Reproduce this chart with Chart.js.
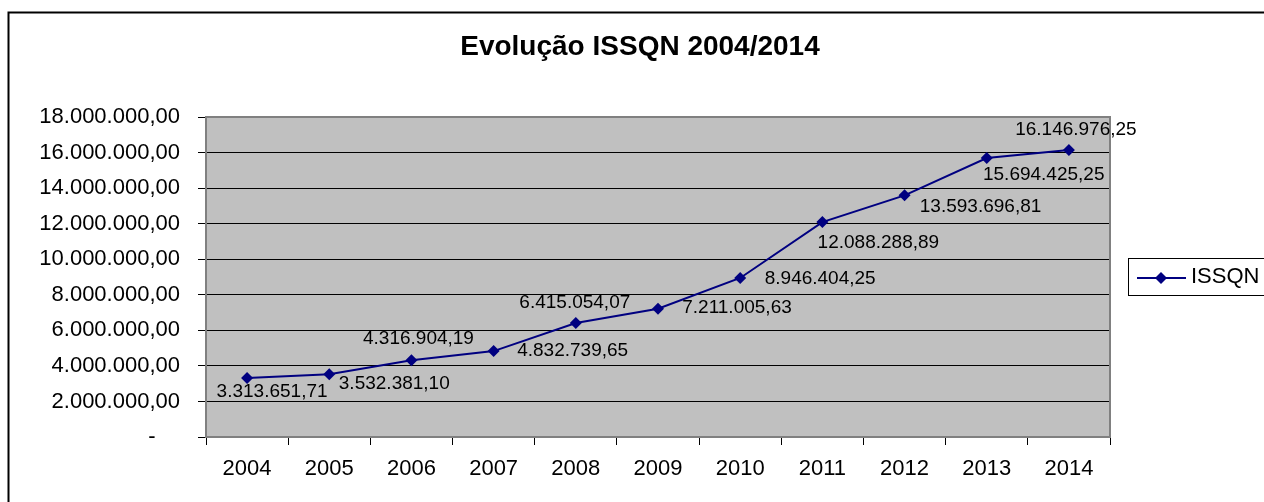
<!DOCTYPE html>
<html>
<head>
<meta charset="utf-8">
<script src="https://cdn.jsdelivr.net/npm/chart.js@4/dist/chart.umd.min.js"></script>
<style>
    body { margin: 0; background: #fff; }
    canvas { display: block; }
</style>
</head>
<body>
<canvas id="canvasIssqn" width="1264" height="502"></canvas>
<script>
const anos = ['2004', '2005', '2006', '2007', '2008', '2009', '2010', '2011', '2012', '2013', '2014']
const issqn = [3313651.71, 3532381.10, 4316904.19, 4832739.65, 6415054.07, 7211005.63,
    8946404.25, 12088288.89, 13593696.81, 15694425.25, 16146976.25]
const yTicks = [0, 2000000, 4000000, 6000000, 8000000, 10000000, 12000000, 14000000, 16000000, 18000000]
const titulo = 'Evolução ISSQN 2004/2014'

// where each value label sits relative to its point (dx, dy)
const labelDx = [25, 65, 7, 79, -1, 79, 80, 56, 76, 57, 7]
const labelDy = [14, 10, -21, 0, -20, -1, 1, 21, 11, 17, -20]

const fonte = '"Liberation Sans", Arial, sans-serif'

function formatBR(v) {
    if (v == 0) return '-    '
    let partes = v.toFixed(2).split('.')
    let inteiro = partes[0].replace(/\B(?=(\d{3})+(?!\d))/g, '.')
    return inteiro + ',' + partes[1]
}

const molduraPlugin = {
    id: 'moldura',
    beforeDraw(chart) {
        const ctx = chart.ctx
        const a = chart.chartArea
        ctx.save()
        ctx.fillStyle = '#fff'
        ctx.fillRect(0, 0, chart.width, chart.height)
        ctx.lineWidth = 2
        ctx.strokeStyle = '#000'
        ctx.strokeRect(8.5, 12.5, 1400, 700)
        ctx.fillStyle = '#C0C0C0'
        ctx.fillRect(a.left, a.top, a.right - a.left, a.bottom - a.top)
        // titulo
        ctx.fillStyle = '#000'
        ctx.font = 'bold 28px ' + fonte
        ctx.textAlign = 'center'
        ctx.textBaseline = 'middle'
        ctx.fillText(titulo, 640, 47)
        ctx.restore()
    },
    beforeDatasetsDraw(chart) {
        const ctx = chart.ctx
        const a = chart.chartArea
        ctx.save()
        ctx.lineWidth = 2
        ctx.strokeStyle = '#808080'
        ctx.strokeRect(a.left, a.top, a.right - a.left, a.bottom - a.top)
        ctx.restore()
    }
}

const rotulosPlugin = {
    id: 'rotulos',
    afterDatasetsDraw(chart) {
        const ctx = chart.ctx
        const meta = chart.getDatasetMeta(0)
        ctx.save()
        ctx.font = '19px ' + fonte
        ctx.fillStyle = '#000'
        ctx.textAlign = 'center'
        ctx.textBaseline = 'middle'
        meta.data.forEach((pt, i) => {
            ctx.fillText(formatBR(issqn[i]), pt.x + labelDx[i], pt.y + labelDy[i])
        })
        ctx.restore()
    }
}

const legendaPlugin = {
    id: 'legenda',
    afterDraw(chart) {
        const ctx = chart.ctx
        const ds = chart.data.datasets[0]
        ctx.save()
        ctx.lineWidth = 1
        ctx.strokeStyle = '#000'
        ctx.strokeRect(1128.5, 258.5, 200, 37)
        ctx.strokeStyle = ds.borderColor
        ctx.lineWidth = 2
        ctx.beginPath()
        ctx.moveTo(1137, 278)
        ctx.lineTo(1186, 278)
        ctx.stroke()
        ctx.fillStyle = ds.borderColor
        ctx.beginPath()
        ctx.moveTo(1161, 272)
        ctx.lineTo(1167, 278)
        ctx.lineTo(1161, 284)
        ctx.lineTo(1155, 278)
        ctx.closePath()
        ctx.fill()
        ctx.fillStyle = '#000'
        ctx.font = '22px ' + fonte
        ctx.textAlign = 'left'
        ctx.textBaseline = 'middle'
        ctx.fillText(ds.label, 1191, 277)
        ctx.restore()
    }
}

new Chart(document.getElementById('canvasIssqn').getContext('2d'), {
    type: 'line',
    data: {
        labels: anos,
        datasets: [{
            label: 'ISSQN',
            data: issqn,
            borderColor: '#000080',
            backgroundColor: '#000080',
            borderWidth: 2,
            pointStyle: 'rectRot',
            pointRadius: 6,
            pointBorderWidth: 0,
            tension: 0,
            fill: false
        }]
    },
    options: {
        responsive: false,
        animation: false,
        layout: { padding: { left: 10, right: 154, top: 117, bottom: 0 } },
        plugins: {
            legend: { display: false },
            tooltip: { enabled: false },
            title: { display: false }
        },
        scales: {
            x: {
                offset: true,
                grid: { offset: true, drawOnChartArea: false, tickLength: 8, tickColor: '#000', color: '#000' },
                border: { display: false },
                ticks: { color: '#000', font: { family: fonte, size: 22 }, padding: 11 },
                afterFit(scale) { scale.height = 65 }
            },
            y: {
                min: 0,
                max: 18000000,
                afterBuildTicks(scale) { scale.ticks = yTicks.map(v => ({ value: v })) },
                grid: { color: '#000', tickLength: 8, tickColor: '#000', lineWidth: 1 },
                border: { display: false },
                ticks: {
                    color: '#000',
                    font: { family: fonte, size: 22 },
                    padding: 18,
                    callback: v => formatBR(v)
                },
                afterFit(scale) { scale.width = 196 }
            }
        }
    },
    plugins: [molduraPlugin, rotulosPlugin, legendaPlugin]
})
</script>
</body>
</html>
